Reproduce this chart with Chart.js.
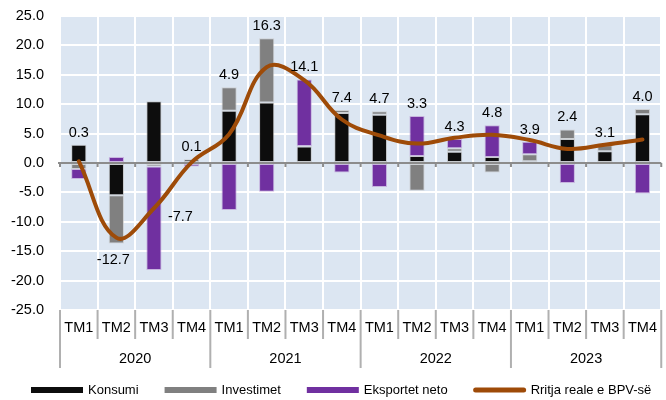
<!DOCTYPE html>
<html>
<head>
<meta charset="utf-8">
<script src="https://cdn.jsdelivr.net/npm/chart.js@4"></script>
<style>
  html, body { margin: 0; padding: 0; background: #fff; }
  #wrap { width: 666px; height: 400px; }
</style>
</head>
<body>
<div id="wrap"><canvas id="chart"></canvas></div>
<script>
"use strict";

const quarterLabels = ["TM1", "TM2", "TM3", "TM4", "TM1", "TM2", "TM3", "TM4",
  "TM1", "TM2", "TM3", "TM4", "TM1", "TM2", "TM3", "TM4"];
const yearLabels = ["2020", "2021", "2022", "2023"];

const konsumi = [3.1, -5.5, 10.5, 0.6, 8.9, 10.3, 2.8, 8.5, 8.2, 1.2, 1.9, 1.0, 0.3, 4.1, 2.0, 8.3];
const investimet = [-1.0, -8.2, -0.6, 0.1, 4.0, 10.9, 0.1, 0.5, 0.6, -4.7, 0.6, -1.6, 1.2, 1.6, 1.0, 0.9];
const eksportet = [-1.7, 1.0, -17.6, -0.6, -8.0, -4.9, 11.3, -1.6, -4.1, 6.8, 1.6, 5.4, 2.1, -3.4, 0.0, -5.2];
const rritja = [0.3, -12.7, -7.7, 0.1, 4.9, 16.3, 14.1, 7.4, 4.7, 3.3, 4.3, 4.8, 3.9, 2.4, 3.1, 4.0];

// where each growth label sits: above the bars, below them, or right of the line
const labelPlace = ["top", "bottom", "right", "top", "top", "top", "top", "top",
  "top", "top", "top", "top", "top", "top", "top", "top"];

const FONT = '"Liberation Sans", Arial, sans-serif';
Chart.defaults.font.family = FONT;
Chart.defaults.color = "#000";

const plotBg = {
  id: "plotBg",
  beforeDraw(chart) {
    const { ctx, chartArea: a } = chart;
    ctx.save();
    ctx.fillStyle = "#dce6f2";
    ctx.fillRect(a.left, a.top, a.right - a.left, a.bottom - a.top);
    ctx.restore();
  },
};

// zero axis with small ticks, drawn just before the growth line
const zeroAxis = {
  id: "zeroAxis",
  beforeDatasetDraw(chart, args) {
    if (args.meta.type !== "line") return;
    const { ctx, scales: { x, y } } = chart;
    const y0 = y.getPixelForValue(0);
    const step = (x.right - x.left) / quarterLabels.length;
    ctx.save();
    ctx.strokeStyle = "#8c8c8c";
    ctx.lineWidth = 2;
    ctx.beginPath();
    ctx.moveTo(x.left - 2, y0);
    ctx.lineTo(x.right, y0);
    for (let i = 0; i <= quarterLabels.length; i++) {
      const px = x.left + i * step;
      ctx.moveTo(px, y0);
      ctx.lineTo(px, y0 + 4);
    }
    ctx.stroke();
    ctx.restore();
  },
};

// separators of the two-level category axis
const catLines = {
  id: "catLines",
  afterDraw(chart) {
    const { ctx, chartArea: a, scales: { x } } = chart;
    const step = (x.right - x.left) / quarterLabels.length;
    ctx.save();
    ctx.strokeStyle = "#b0b0b0";
    ctx.lineWidth = 2;
    ctx.beginPath();
    for (let i = 0; i <= quarterLabels.length; i++) {
      const px = x.left + i * step;
      ctx.moveTo(px, a.bottom);
      ctx.lineTo(px, a.bottom + (i % 4 === 0 ? 58 : 29));
    }
    ctx.stroke();
    ctx.restore();
  },
};

const growthLabels = {
  id: "growthLabels",
  afterDatasetsDraw(chart) {
    const { ctx, scales: { x, y } } = chart;
    const bars = [konsumi, investimet, eksportet];
    ctx.save();
    ctx.font = "14.5px " + FONT;
    ctx.fillStyle = "#000";
    rritja.forEach((v, i) => {
      const px = x.getPixelForValue(i);
      const pos = bars.reduce((s, d) => s + Math.max(0, d[i]), 0);
      const neg = bars.reduce((s, d) => s + Math.min(0, d[i]), 0);
      const txt = v.toFixed(1);
      if (labelPlace[i] === "top") {
        ctx.textAlign = "center";
        ctx.textBaseline = "bottom";
        ctx.fillText(txt, px, y.getPixelForValue(pos) - 5);
      } else if (labelPlace[i] === "bottom") {
        ctx.textAlign = "center";
        ctx.textBaseline = "top";
        ctx.fillText(txt, px - 3, y.getPixelForValue(neg) + 9);
      } else {
        ctx.textAlign = "left";
        ctx.textBaseline = "middle";
        ctx.fillText(txt, px + 14, y.getPixelForValue(v) + 9);
      }
    });
    ctx.restore();
  },
};

// legend row drawn by hand: wide flat keys, Chart.js legend wraps at this width
const bottomLegend = {
  id: "bottomLegend",
  afterDraw(chart) {
    const { ctx } = chart;
    const yMid = chart.height - 10;
    let cx = 31;
    ctx.save();
    ctx.font = "13px " + FONT;
    ctx.textAlign = "left";
    ctx.textBaseline = "middle";
    chart.data.datasets.forEach((ds) => {
      ctx.fillStyle = ds.backgroundColor;
      if (ds.type === "line") {
        ctx.strokeStyle = ds.borderColor;
        ctx.lineWidth = 5;
        ctx.lineCap = "round";
        ctx.beginPath();
        ctx.moveTo(cx + 2, yMid);
        ctx.lineTo(cx + 50, yMid);
        ctx.stroke();
      } else {
        ctx.fillRect(cx, yMid - 3, 52, 6);
      }
      ctx.fillStyle = "#000";
      ctx.fillText(ds.label, cx + 57, yMid);
      cx += 57 + ctx.measureText(ds.label).width + 26;
    });
    ctx.restore();
  },
};

const barStyle = { borderWidth: 1, borderSkipped: false, stack: "bars" };

new Chart(document.getElementById("chart"), {
  type: "bar",
  data: {
    labels: quarterLabels,
    datasets: [
      { label: "Konsumi", data: konsumi, backgroundColor: "#0d0d0d", borderColor: "rgba(190,190,190,0.7)", ...barStyle },
      { label: "Investimet", data: investimet, backgroundColor: "#808080", borderColor: "rgba(200,200,200,0.7)", ...barStyle },
      { label: "Eksportet neto", data: eksportet, backgroundColor: "#7030a0", borderColor: "rgba(190,160,215,0.7)", ...barStyle },
      {
        type: "line",
        label: "Rritja reale e BPV-së",
        data: rritja,
        borderColor: "#9e4b08",
        backgroundColor: "#9e4b08",
        borderWidth: 4,
        borderCapStyle: "round",
        pointRadius: 0,
        tension: 0.4,
        stack: "gdp",
        order: -1,
      },
    ],
  },
  options: {
    responsive: true,
    maintainAspectRatio: false,
    animation: false,
    datasets: { bar: { barPercentage: 0.405, categoryPercentage: 1 } },
    layout: { padding: { top: 16, right: 1, left: 0, bottom: 31 } },
    scales: {
      x: {
        offset: true,
        grid: { offset: true, color: "#ffffff", lineWidth: 2, drawTicks: false },
        border: { display: false },
        ticks: { padding: 9, autoSkip: false, maxRotation: 0, font: { size: 14.5 } },
        afterFit: (s) => { s.height = 29; },
      },
      x2: {
        type: "category",
        position: "bottom",
        labels: yearLabels,
        offset: true,
        grid: { display: false, drawTicks: false },
        border: { display: false },
        ticks: { padding: 11, font: { size: 14.5 } },
        afterFit: (s) => { s.height = 30; },
      },
      y: {
        stacked: true,
        min: -25,
        max: 25,
        ticks: { stepSize: 5, padding: 16, font: { size: 14.5 }, callback: (v) => Number(v).toFixed(1) },
        grid: {
          color: (c) => (c.tick && c.tick.value === 0 ? "rgba(0,0,0,0)" : "#ffffff"),
          lineWidth: 2,
          drawTicks: false,
        },
        border: { display: false },
        afterFit: (s) => {
          s.width = 60;
          s.paddingTop = 0;
          s.paddingBottom = 0;
        },
      },
    },
    plugins: {
      tooltip: { enabled: false },
      legend: { display: false },
    },
  },
  plugins: [plotBg, zeroAxis, catLines, growthLabels, bottomLegend],
});
</script>
</body>
</html>
